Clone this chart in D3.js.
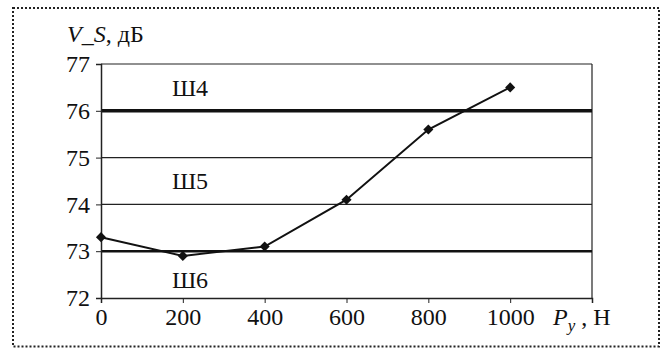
<!DOCTYPE html>
<html>
<head>
<meta charset="utf-8">
<script src="https://cdn.jsdelivr.net/npm/d3@7"></script>
<style>
  body { margin: 0; background: #fff; }
</style>
</head>
<body>
<svg id="chart"></svg>
<script>
// data
const loads = [0, 200, 400, 600, 800, 1000];
const noise = [73.3, 72.9, 73.1, 74.1, 75.6, 76.5];
const xTicks = [0, 200, 400, 600, 800, 1000];
const yTicks = [72, 73, 74, 75, 76, 77];
const bands = [
  { name: "Ш4", level: 76.5 },
  { name: "Ш5", level: 74.5 },
  { name: "Ш6", level: 72.4 }
];
const limits = [76, 73];

const w = 667;
const h = 349;
const padL = 101, padR = 592, padT = 64, padB = 298;
const serif = "'Liberation Serif', 'Times New Roman', serif";
const fs = "24px";

const svg = d3.select("#chart")
  .attr("width", w)
  .attr("height", h);

const x = d3.scaleLinear().domain([0, 1200]).range([padL, padR]);
const y = d3.scaleLinear().domain([72, 77]).range([padB, padT]);

// dotted frame
svg.append("rect")
  .attr("x", 13).attr("y", 8)
  .attr("width", 646).attr("height", 338.5)
  .attr("fill", "none")
  .attr("stroke", "#222")
  .attr("stroke-width", 2)
  .attr("stroke-dasharray", "2,2");

// grid lines
svg.append("g")
  .selectAll("line")
  .data(yTicks.filter(d => d > 72))
  .join("line")
  .attr("x1", padL).attr("x2", padR)
  .attr("y1", d => y(d)).attr("y2", d => y(d))
  .attr("stroke", "#222")
  .attr("stroke-width", 1.2);

// right border of plot
svg.append("line")
  .attr("x1", padR).attr("x2", padR)
  .attr("y1", padT).attr("y2", padB)
  .attr("stroke", "#222")
  .attr("stroke-width", 1.2);

// thick limit lines
svg.append("g")
  .selectAll("line")
  .data(limits)
  .join("line")
  .attr("x1", padL).attr("x2", padR)
  .attr("y1", d => y(d)).attr("y2", d => y(d))
  .attr("stroke", "#111")
  .attr("stroke-width", (d, i) => i === 0 ? 3.5 : 2.5);

// axes
const xAxis = d3.axisBottom(x)
  .tickValues([...xTicks, 1200])
  .tickSize(5)
  .tickFormat(d => d <= 1000 ? d : "");
const gx = svg.append("g")
  .attr("transform", `translate(0, ${padB})`)
  .call(xAxis);
gx.select(".domain").attr("stroke", "#222").attr("stroke-width", 1.5);
gx.selectAll(".tick line").attr("stroke", "#222");
gx.selectAll(".tick text")
  .style("font-size", fs)
  .style("font-family", serif)
  .attr("fill", "#111")
  .attr("y", 27)
  .attr("dy", 0);

const yAxis = d3.axisLeft(y)
  .tickValues(yTicks)
  .tickFormat(d3.format("d"))
  .tickSize(5);
const gy = svg.append("g")
  .attr("transform", `translate(${padL}, 0)`)
  .call(yAxis);
gy.select(".domain").attr("stroke", "#222").attr("stroke-width", 1.5);
gy.selectAll(".tick line").attr("stroke", "#222");
gy.selectAll(".tick text")
  .style("font-size", fs)
  .style("font-family", serif)
  .attr("fill", "#111")
  .attr("x", -11);

// band labels
svg.append("g")
  .selectAll("text")
  .data(bands)
  .join("text")
  .attr("x", 190)
  .attr("y", d => y(d.level))
  .attr("text-anchor", "middle")
  .attr("dy", "0.35em")
  .style("font-size", fs)
  .style("font-family", serif)
  .attr("fill", "#111")
  .text(d => d.name);

// series line
const line = d3.line()
  .x((d, i) => x(loads[i]))
  .y(d => y(d));

svg.append("path")
  .datum(noise)
  .attr("fill", "none")
  .attr("stroke", "#111")
  .attr("stroke-width", 2)
  .attr("d", line);

svg.append("g")
  .selectAll("path")
  .data(noise)
  .join("path")
  .attr("d", d3.symbol(d3.symbolDiamond2, 65))
  .attr("transform", (d, i) => `translate(${x(loads[i])}, ${y(d)})`)
  .attr("fill", "#111");

// axis titles
const yTitle = svg.append("text")
  .attr("x", 67)
  .attr("y", 42)
  .style("font-size", fs)
  .style("font-family", serif)
  .attr("fill", "#111");
yTitle.append("tspan").style("font-style", "italic").text("V_S");
yTitle.append("tspan").text(", дБ");

const xTitle = svg.append("text")
  .attr("x", 553)
  .attr("y", 325)
  .style("font-size", fs)
  .style("font-family", serif)
  .attr("fill", "#111");
xTitle.append("tspan").style("font-style", "italic").text("P");
xTitle.append("tspan").style("font-style", "italic").style("font-size", "17px").attr("dy", 6).text("y");
xTitle.append("tspan").attr("dy", -6).text(" , Н");
</script>
</body>
</html>
